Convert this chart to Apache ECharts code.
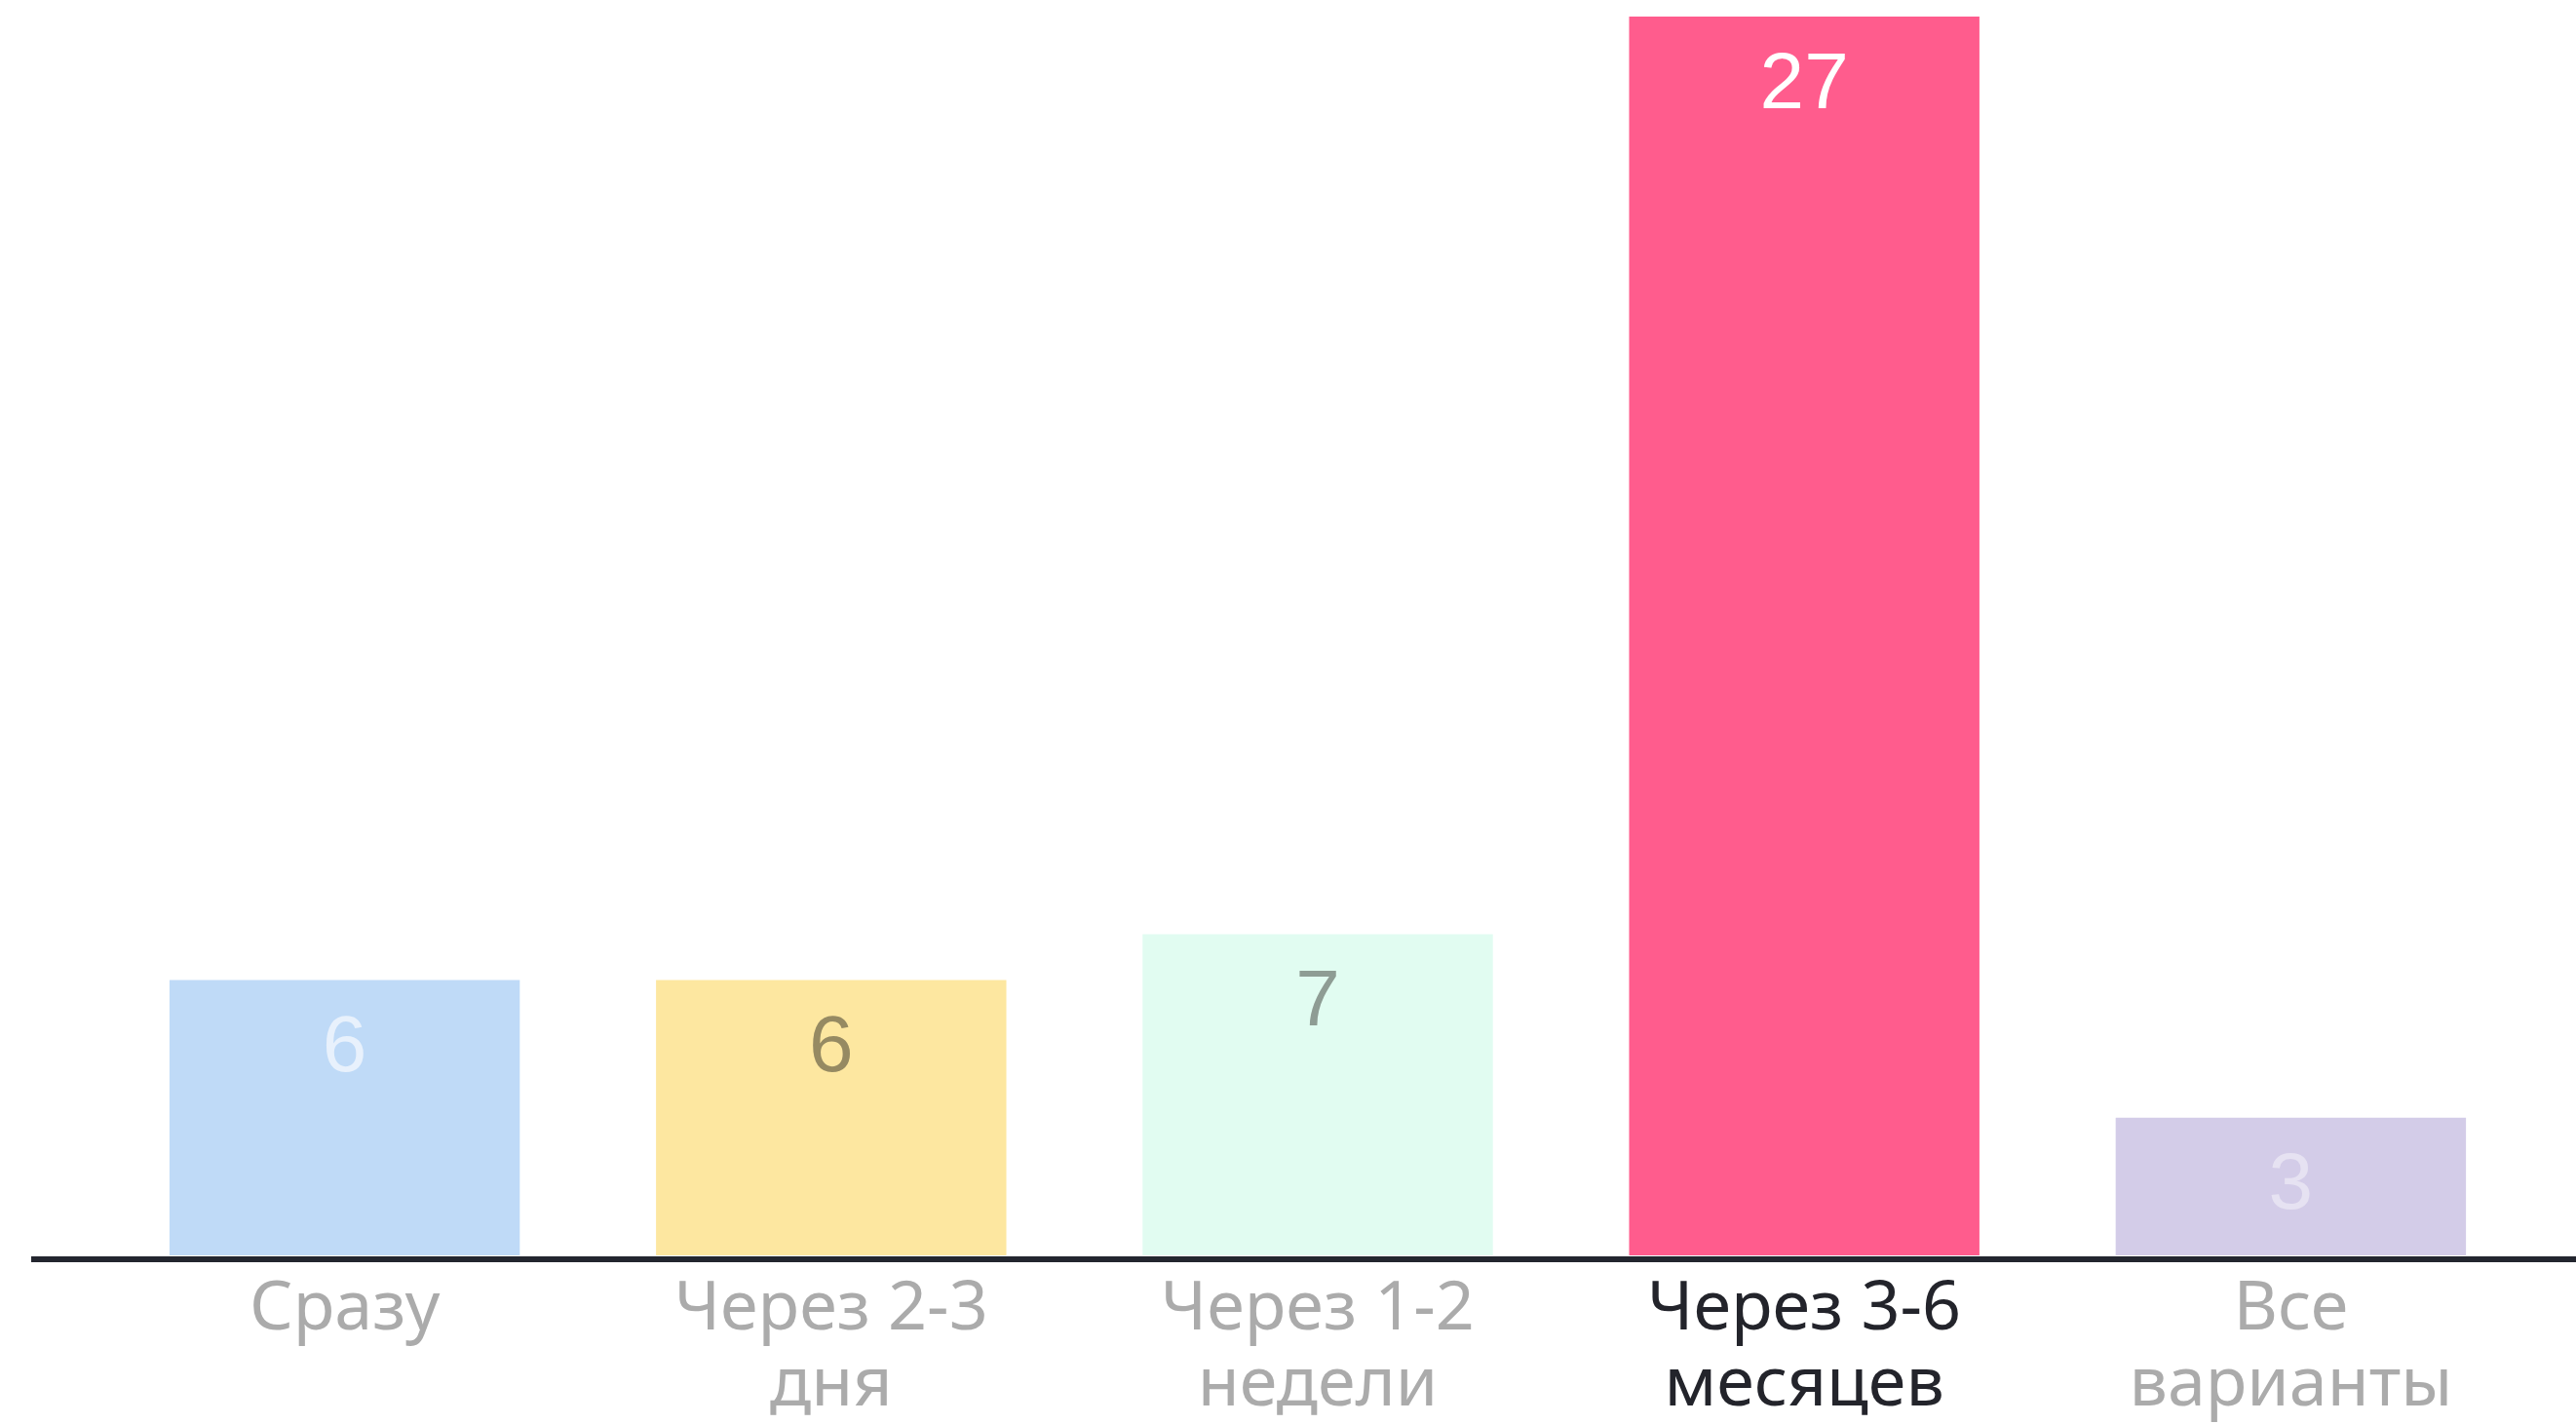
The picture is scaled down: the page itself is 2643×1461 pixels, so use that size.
<!DOCTYPE html>
<html>
  <head>
    <meta charset="utf-8">
    <title>Через сколько</title>
    <style>
      html, body { margin: 0; padding: 0; background: #fff; }
    </style>
  </head>
  <body>
    <div id="main" style="width: 2643px;height:1461px;"></div>

  <script src="https://cdn.jsdelivr.net/npm/echarts@6/dist/echarts.min.js" charset="utf-8"></script>
  <script type="text/javascript">
  var categories = ['Сразу', 'Через 2-3\nдня', 'Через 1-2\nнедели', 'Через 3-6\nмесяцев', 'Все\nварианты'];
  var values = [6, 6, 7, 27, 3];
  var barColors = ['#bfdaf7', '#fde7a0', '#e1fcf1', '#ff5c8d', '#d3cce8'];
  var labelColors = ['#e8f1fc', '#968a62', '#8e9c94', '#ffffff', '#e6e2f2'];
  var highlight = 3;

  var myChart = echarts.init(document.getElementById('main'));

  var option = {
    backgroundColor: '#ffffff',
    animation: false,
    grid: {
        left: 104,
        right: 43,
        top: 17,
        bottom: 170
    },
    xAxis: {
        type: 'category',
        data: categories,
        axisLine: { show: false },
        axisTick: { show: false },
        axisLabel: {
            margin: 17,
            fontFamily: 'Noto Sans',
            fontSize: 70,
            lineHeight: 78,
            color: function (value, index) {
                return index === highlight ? '#23242b' : '#ababab';
            }
        }
    },
    yAxis: {
        type: 'value',
        min: 0,
        max: 27,
        show: false,
        splitLine: { show: false }
    },
    // линия оси шире сетки, рисуем отдельно
    graphic: [{
        type: 'line',
        shape: { x1: 32, y1: 1292, x2: 2643, y2: 1292 },
        style: { stroke: '#23262f', lineWidth: 6 },
        z: 10
    }],
    series: [{
        type: 'bar',
        barWidth: '72%',
        data: values.map(function (v, i) {
            return {
                value: v,
                itemStyle: { color: barColors[i] },
                label: { color: labelColors[i] }
            };
        }),
        label: {
            show: true,
            position: 'insideTop',
            distance: 30,
            fontFamily: 'Liberation Sans',
            fontSize: 82
        }
    }]
  };
  myChart.setOption(option);
  </script>
  </body>
</html>
